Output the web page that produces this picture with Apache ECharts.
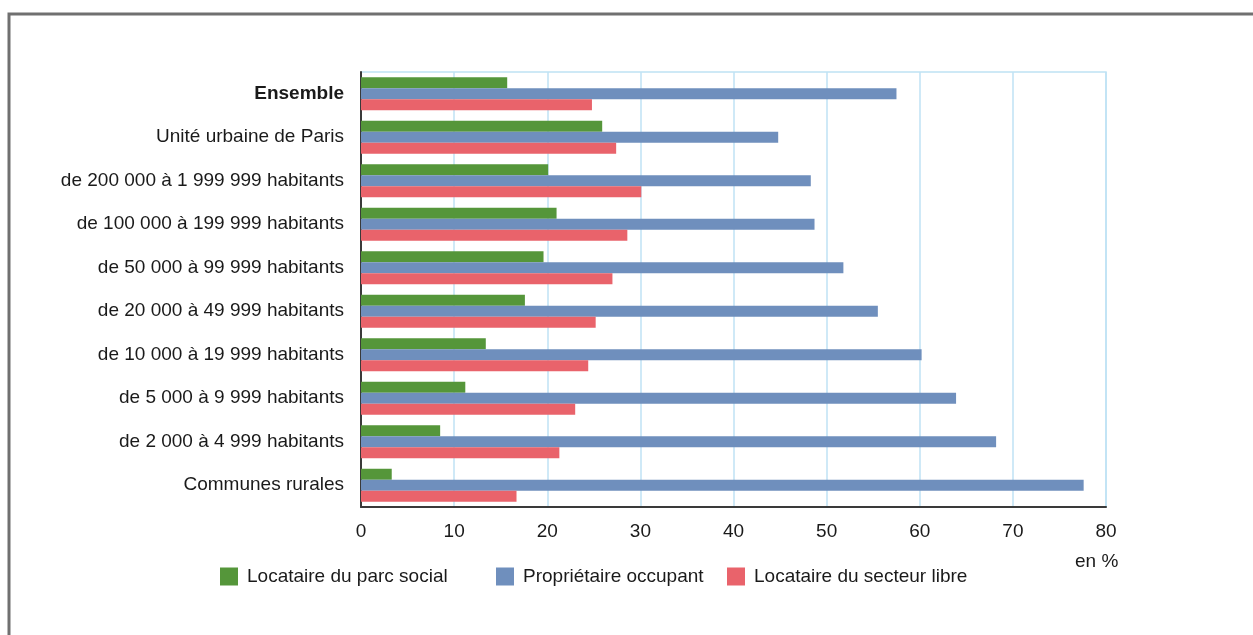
<!DOCTYPE html>
<html>
<head>
<meta charset="utf-8">
<script src="https://cdn.jsdelivr.net/npm/echarts@6/dist/echarts.min.js"></script>
<style>
  html, body { margin: 0; padding: 0; background: #fff; }
  #chart { width: 1253px; height: 635px; }
</style>
</head>
<body>
<div id="chart"></div>
<script>
// categories, top to bottom
const categories = [
  "Ensemble",
  "Unité urbaine de Paris",
  "de 200 000 à 1 999 999 habitants",
  "de 100 000 à 199 999 habitants",
  "de 50 000 à 99 999 habitants",
  "de 20 000 à 49 999 habitants",
  "de 10 000 à 19 999 habitants",
  "de 5 000 à 9 999 habitants",
  "de 2 000 à 4 999 habitants",
  "Communes rurales"
];
const seriesNames = ["Locataire du parc social", "Propriétaire occupant", "Locataire du secteur libre"];
const parcSocial = [15.7, 25.9, 20.1, 21.0, 19.6, 17.6, 13.4, 11.2, 8.5, 3.3];
const proprietaire = [57.5, 44.8, 48.3, 48.7, 51.8, 55.5, 60.2, 63.9, 68.2, 77.6];
const secteurLibre = [24.8, 27.4, 30.1, 28.6, 27.0, 25.2, 24.4, 23.0, 21.3, 16.7];
const xTicks = [0, 10, 20, 30, 40, 50, 60, 70, 80];

const font = "'Liberation Sans', Arial, sans-serif";
const textColor = "#1a1a1a";
const colors = ["#55963a", "#6f8fbd", "#e9636b"];
const legendLeft = [215, 491, 722];

let myChart = echarts.init(document.getElementById("chart"));

const makeBar = (name, data, color) => ({
  name: name,
  type: "bar",
  data: data,
  barWidth: 11,
  barGap: "0%",
  itemStyle: { color: color },
  emphasis: { disabled: true }
});

// one legend per item so each can sit where it is in the picture
const legends = seriesNames.map((n, i) => ({
  data: [n],
  left: legendLeft[i],
  top: 562,
  itemWidth: 18,
  itemHeight: 18,
  icon: "rect",
  selectedMode: false,
  textStyle: { fontFamily: font, fontSize: 19, color: textColor, padding: [0, 0, 0, 4] }
}));

let option = {
  animation: false,
  textStyle: { fontFamily: font },
  grid: {
    left: 361,
    right: 147,
    top: 72,
    bottom: 128,
    show: true,
    borderColor: "#bfe2f4",
    borderWidth: 1.5
  },
  legend: legends,
  xAxis: {
    type: "value",
    min: xTicks[0],
    max: xTicks[xTicks.length - 1],
    interval: 10,
    axisLine: { show: true, lineStyle: { color: "#3a3a3a", width: 2 } },
    axisTick: { show: false },
    splitLine: { show: true, lineStyle: { color: "#bfe2f4", width: 1.5 } },
    axisLabel: { fontFamily: font, fontSize: 19, color: textColor, margin: 15 }
  },
  yAxis: {
    type: "category",
    data: categories,
    inverse: true,
    axisLine: { show: true, lineStyle: { color: "#3a3a3a", width: 2 } },
    axisTick: { show: false },
    splitLine: { show: false },
    axisLabel: {
      fontFamily: font,
      fontSize: 19,
      color: textColor,
      margin: 17,
      formatter: function (v) {
        return v === "Ensemble" ? "{b|" + v + "}" : v;
      },
      rich: {
        b: { fontFamily: font, fontSize: 19, fontWeight: "bold", color: textColor }
      }
    }
  },
  graphic: [
    {
      type: "rect",
      shape: { x: 9, y: 14, width: 1400, height: 800 },
      style: { fill: "none", stroke: "#707070", lineWidth: 3 },
      silent: true
    },
    {
      type: "text",
      left: 1075,
      top: 552,
      style: { text: "en %", font: "19px " + font, fill: textColor }
    }
  ],
  series: [
    makeBar(seriesNames[0], parcSocial, colors[0]),
    makeBar(seriesNames[1], proprietaire, colors[1]),
    makeBar(seriesNames[2], secteurLibre, colors[2])
  ]
};
myChart.setOption(option);
</script>
</body>
</html>
